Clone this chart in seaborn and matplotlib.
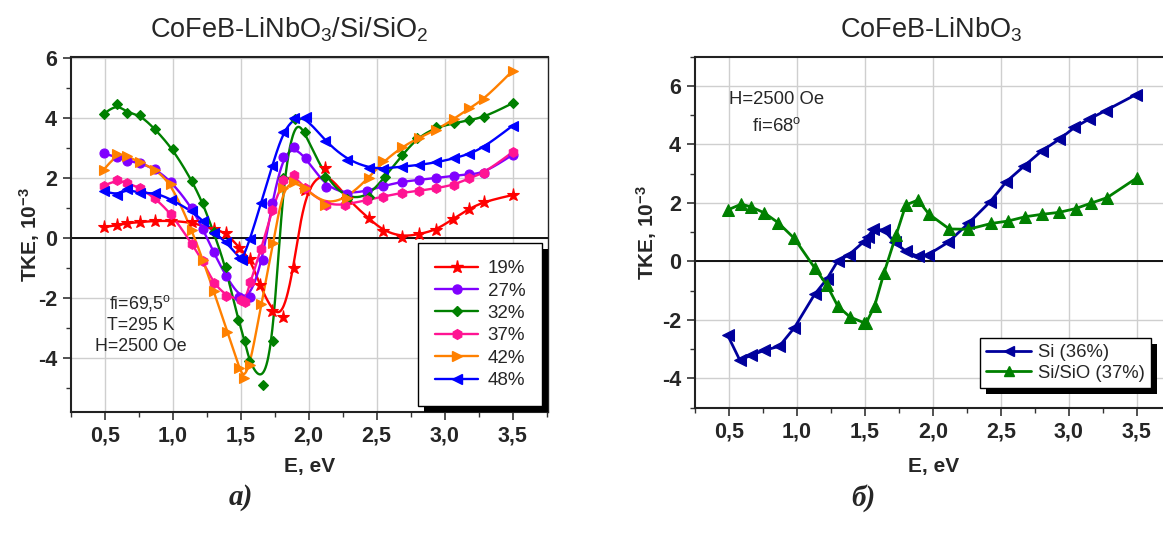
import numpy as np
import pandas as pd
import matplotlib
matplotlib.use("Agg")
import matplotlib.pyplot as plt
import seaborn as sns
from matplotlib.lines import Line2D
from matplotlib.patches import Rectangle
from matplotlib.transforms import IdentityTransform

# ---------------- data: left panel (CoFeB-LiNbO3/Si/SiO2) ----------------
e_19 = [0.49, 0.59, 0.66, 0.76, 0.87, 0.99, 1.14, 1.30, 1.39, 1.49, 1.57, 1.64, 1.73, 1.81, 1.89,
        1.97, 2.12, 2.28, 2.44, 2.55, 2.69, 2.81, 2.94, 3.06, 3.18, 3.29, 3.50]
tke_19 = [0.35, 0.41, 0.48, 0.52, 0.56, 0.56, 0.51, 0.29, 0.17, -0.34, -0.72, -1.58, -2.44, -2.63, -1.0,
          1.6, 2.31, 1.3, 0.65, 0.22, 0.03, 0.11, 0.26, 0.62, 0.96, 1.2, 1.42]

e_27 = [0.49, 0.59, 0.66, 0.76, 0.87, 0.99, 1.14, 1.22, 1.30, 1.39, 1.49, 1.57, 1.66, 1.73, 1.81, 1.89,
        1.98, 2.125, 2.28, 2.43, 2.55, 2.69, 2.81, 2.94, 3.07, 3.18, 3.29, 3.50]
tke_27 = [2.81, 2.68, 2.57, 2.48, 2.29, 1.87, 1.0, 0.29, -0.49, -1.28, -1.97, -1.97, -0.74, 1.17, 2.69, 3.03,
          2.65, 1.7, 1.46, 1.56, 1.72, 1.87, 1.92, 2.0, 2.06, 2.11, 2.15, 2.76]

e_32 = [0.49, 0.59, 0.66, 0.76, 0.87, 1.0, 1.14, 1.22, 1.30, 1.39, 1.48, 1.53, 1.56, 1.66, 1.74, 1.81,
        1.90, 1.97, 2.12, 2.28, 2.44, 2.56, 2.69, 2.80, 2.94, 3.07, 3.18, 3.29, 3.50]
tke_32 = [4.12, 4.45, 4.17, 4.09, 3.61, 2.95, 1.90, 1.15, 0.18, -0.99, -2.74, -3.43, -4.11, -4.91, -3.44, 2.0,
          3.96, 3.53, 2.01, 1.28, 1.37, 2.03, 2.76, 3.33, 3.68, 3.81, 3.92, 4.01, 4.48]

e_37 = [0.49, 0.59, 0.66, 0.76, 0.87, 0.99, 1.14, 1.22, 1.30, 1.39, 1.50, 1.53, 1.57, 1.65, 1.73, 1.81,
        1.89, 1.97, 2.125, 2.27, 2.43, 2.55, 2.69, 2.81, 2.94, 3.07, 3.18, 3.29, 3.50]
tke_37 = [1.73, 1.92, 1.83, 1.65, 1.31, 0.79, -0.21, -0.78, -1.52, -1.93, -2.08, -2.13, -1.47, -0.39, 0.92, 1.92,
          2.10, 1.64, 1.09, 1.09, 1.26, 1.37, 1.50, 1.56, 1.65, 1.76, 1.98, 2.15, 2.85]

e_42 = [0.49, 0.59, 0.66, 0.76, 0.87, 0.99, 1.14, 1.22, 1.30, 1.40, 1.49, 1.52, 1.57, 1.65, 1.74, 1.81,
        1.89, 1.97, 2.12, 2.28, 2.44, 2.55, 2.69, 2.81, 2.94, 3.07, 3.18, 3.29, 3.50]
tke_42 = [2.26, 2.78, 2.72, 2.51, 2.27, 1.80, 0.24, -0.74, -1.77, -3.13, -4.35, -4.67, -4.24, -2.21, -0.17, 1.66,
          1.87, 1.65, 1.1, 1.31, 1.99, 2.54, 3.03, 3.33, 3.59, 3.96, 4.31, 4.61, 5.56]

e_48 = [0.49, 0.59, 0.66, 0.76, 0.87, 0.99, 1.14, 1.22, 1.30, 1.39, 1.49, 1.51, 1.57, 1.65, 1.73, 1.81,
        1.89, 1.98, 2.12, 2.28, 2.44, 2.55, 2.69, 2.81, 2.94, 3.07, 3.18, 3.29, 3.50]
tke_48 = [1.56, 1.42, 1.62, 1.48, 1.5, 1.27, 0.88, 0.57, 0.17, -0.13, -0.68, -0.74, -0.03, 1.17, 2.38, 3.51,
          3.98, 4.01, 3.22, 2.6, 2.33, 2.3, 2.37, 2.42, 2.51, 2.64, 2.79, 3.01, 3.73]

left_labels = ["19%", "27%", "32%", "37%", "42%", "48%"]

# ---------------- data: right panel (CoFeB-LiNbO3) ----------------
e_si = [0.49, 0.58, 0.66, 0.76, 0.87, 0.98, 1.13, 1.22, 1.30, 1.38, 1.49, 1.52, 1.56, 1.64, 1.72, 1.80,
        1.89, 1.96, 2.11, 2.26, 2.42, 2.54, 2.67, 2.80, 2.93, 3.04, 3.15, 3.27, 3.49]
tke_si = [-2.52, -3.38, -3.21, -3.04, -2.9, -2.27, -1.12, -0.6, 0.02, 0.22, 0.67, 0.84, 1.1, 1.07, 0.65, 0.35,
          0.17, 0.22, 0.65, 1.3, 2.04, 2.73, 3.26, 3.78, 4.18, 4.58, 4.87, 5.16, 5.7]

e_sio = [0.49, 0.59, 0.66, 0.76, 0.86, 0.98, 1.13, 1.22, 1.30, 1.39, 1.49, 1.51, 1.57, 1.64, 1.73, 1.80,
         1.89, 1.97, 2.12, 2.26, 2.43, 2.55, 2.68, 2.80, 2.93, 3.05, 3.16, 3.28, 3.50]
tke_sio = [1.76, 1.96, 1.87, 1.66, 1.33, 0.79, -0.22, -0.81, -1.53, -1.9, -2.09, -2.09, -1.53, -0.39, 0.92, 1.93,
           2.10, 1.62, 1.11, 1.10, 1.30, 1.38, 1.53, 1.61, 1.68, 1.81, 1.99, 2.18, 2.86]

right_labels = ["Si (36%)", "Si/SiO (37%)"]

x_ticks = [0.5, 1.0, 1.5, 2.0, 2.5, 3.0, 3.5]
x_ticklabels = ["0,5", "1,0", "1,5", "2,0", "2,5", "3,0", "3,5"]
y_ticks_left = [-4, -2, 0, 2, 4, 6]
y_ticks_right = [-4, -2, 0, 2, 4, 6]

# ---------------- style ----------------
sns.set_theme(style="white")
plt.rcParams['font.family'] = ['Liberation Sans', 'DejaVu Sans']
plt.rcParams['mathtext.fontset'] = 'custom'
plt.rcParams['mathtext.rm'] = 'Liberation Sans'
plt.rcParams['mathtext.it'] = 'Liberation Sans:italic'
plt.rcParams['mathtext.bf'] = 'Liberation Sans:bold'


def bspline(x, y, n=24):
    """Uniform cubic B-spline using the measured points as control points (Origin-style B-spline line)."""
    P = np.column_stack([x, y]).astype(float)
    P = np.vstack([P[0], P[0], P, P[-1], P[-1]])
    t = np.linspace(0, 1, n, endpoint=False)
    b0 = (1 - t) ** 3 / 6
    b1 = (3 * t ** 3 - 6 * t ** 2 + 4) / 6
    b2 = (-3 * t ** 3 + 3 * t ** 2 + 3 * t + 1) / 6
    b3 = t ** 3 / 6
    segs = []
    for i in range(len(P) - 3):
        segs.append(np.outer(b0, P[i]) + np.outer(b1, P[i + 1]) + np.outer(b2, P[i + 2]) + np.outer(b3, P[i + 3]))
    segs.append(P[-1][None, :])
    C = np.vstack(segs)
    return C[:, 0], C[:, 1]


fig = plt.figure(figsize=(11.63, 5.33), dpi=100)
ax1 = fig.add_axes([0.0610, 0.2276, 0.4101, 0.666])
ax2 = fig.add_axes([0.5976, 0.2351, 0.4110, 0.6585])

left_series = [
    (e_19, tke_19, "#FF0000", "*", 9.5),
    (e_27, tke_27, "#8000FF", "o", 6.5),
    (e_32, tke_32, "#008000", "D", 5.5),
    (e_37, tke_37, "#FF1493", "h", 7.0),
    (e_42, tke_42, "#FF8000", ">", 7.0),
    (e_48, tke_48, "#0000FF", "<", 7.0),
]

for ax in (ax1, ax2):
    ax.grid(True, which='major', color='#cfcfcf', lw=1.0, zorder=0)
    ax.axhline(0, color='black', lw=1.3, zorder=1.5)

handles_left = []
for e, t, c, m, ms in left_series:
    cx, cy = bspline(e, t)
    sns.lineplot(x=cx, y=cy, ax=ax1, color=c, lw=1.7, sort=False, estimator=None, zorder=3)
    sns.lineplot(x=e, y=t, ax=ax1, color=c, linestyle='', marker=m, markersize=ms,
                 markeredgecolor=c, markeredgewidth=0.8, sort=False, estimator=None, zorder=4)
    handles_left.append(Line2D([], [], color=c, lw=1.7, marker=m, markersize=ms,
                               markeredgecolor=c))

right_series = [
    (e_si, tke_si, "#00009C", "<", 8.0),
    (e_sio, tke_sio, "#008000", "^", 8.0),
]
handles_right = []
for e, t, c, m, ms in right_series:
    sns.lineplot(x=e, y=t, ax=ax2, color=c, lw=2.0, marker=m, markersize=ms,
                 markeredgecolor=c, sort=False, estimator=None, zorder=3)
    handles_right.append(Line2D([], [], color=c, lw=2.0, marker=m, markersize=ms - 1,
                                markeredgecolor=c))

ax1.set_xlim(0.25, 3.76)
ax1.set_ylim(-5.8, 6.03)
ax2.set_xlim(0.25, 3.765)
ax2.set_ylim(-5.0, 7.0)

for ax, yt in ((ax1, y_ticks_left), (ax2, y_ticks_right)):
    ax.set_xticks(x_ticks, labels=x_ticklabels, fontweight='bold', fontsize=15.5)
    ax.set_yticks(yt, labels=[str(v) for v in yt], fontweight='bold', fontsize=15.5)
    ax.xaxis.set_minor_locator(matplotlib.ticker.MultipleLocator(0.25))
    ax.yaxis.set_minor_locator(matplotlib.ticker.MultipleLocator(1))
    ax.tick_params(which='major', direction='out', length=6, width=1.2, color='#333333',
                   bottom=True, left=True, pad=4)
    ax.tick_params(which='minor', direction='out', length=3.5, width=1.0, color='#333333',
                   bottom=True, left=True)
    for sp in ax.spines.values():
        sp.set_color('#222222')
    ax.spines['left'].set_linewidth(1.5)
    ax.spines['bottom'].set_linewidth(1.5)
    ax.spines['top'].set_linewidth(1.5)
    ax.spines['right'].set_linewidth(1.0)
    ax.set_xlabel("E, eV", fontweight='bold', fontsize=15, va='top')
    ax.set_ylabel(r"TKE, 10$^{\mathbf{-3}}$", fontweight='bold', fontsize=15)

ax1.xaxis.set_label_coords(0.5, -0.128)
ax2.xaxis.set_label_coords(0.5, -0.140)
ax1.yaxis.set_label_coords(-0.061, 0.5)
ax2.yaxis.set_label_coords(-0.075, 0.5)

# titles
fig.text(0.249, 0.944, r"CoFeB-LiNbO$_3$/Si/SiO$_2$", ha='center', va='center', fontsize=19.5)
fig.text(0.801, 0.944, r"CoFeB-LiNbO$_3$", ha='center', va='center', fontsize=19.5)

# annotations
ax1.text(0.146, 0.306, r"fi=69,5$^\mathrm{o}$", transform=ax1.transAxes, ha='center', va='center', fontsize=12.8)
ax1.text(0.146, 0.244, "T=295 K", transform=ax1.transAxes, ha='center', va='center', fontsize=12.8)
ax1.text(0.146, 0.183, "H=2500 Oe", transform=ax1.transAxes, ha='center', va='center', fontsize=12.8)
ax2.text(0.171, 0.878, "H=2500 Oe", transform=ax2.transAxes, ha='center', va='center', fontsize=13.3)
ax2.text(0.171, 0.803, r"fi=68$^\mathrm{o}$", transform=ax2.transAxes, ha='center', va='center', fontsize=13.3)

# legends
leg1 = ax1.legend(handles_left, left_labels, loc='lower right', bbox_to_anchor=(0.988, 0.016),
                  borderaxespad=0, frameon=True, fancybox=False, fontsize=13.5,
                  handlelength=2.3, handletextpad=0.5, labelspacing=0.28, borderpad=0.9)
leg2 = ax2.legend(handles_right, right_labels, loc='lower left', bbox_to_anchor=(0.596, 0.055),
                  borderaxespad=0, frameon=True, fancybox=False, fontsize=13.3,
                  handlelength=2.4, handletextpad=0.4, labelspacing=0.2, borderpad=0.35)
for leg in (leg1, leg2):
    leg.get_frame().set_edgecolor('black')
    leg.get_frame().set_linewidth(1.0)
    leg.get_frame().set_alpha(1)
    leg.set_zorder(6)

# captions
fig.text(0.207, 0.066, "а)", ha='center', va='center', fontsize=21, fontweight='bold',
         fontstyle='italic', family=['Liberation Serif', 'DejaVu Serif'])
fig.text(0.742, 0.066, "б)", ha='center', va='center', fontsize=21, fontweight='bold',
         fontstyle='italic', family=['Liberation Serif', 'DejaVu Serif'])

# black drop shadows behind the legends (derived from legend extents)
fig.canvas.draw()
for ax, leg in ((ax1, leg1), (ax2, leg2)):
    bb = leg.get_frame().get_window_extent()
    ax.add_patch(Rectangle((bb.x0 + 6, bb.y0 - 6), bb.width, bb.height, transform=IdentityTransform(),
                           facecolor='black', edgecolor='none', zorder=5.5, clip_on=False))

fig.savefig("out.png", dpi=100)
